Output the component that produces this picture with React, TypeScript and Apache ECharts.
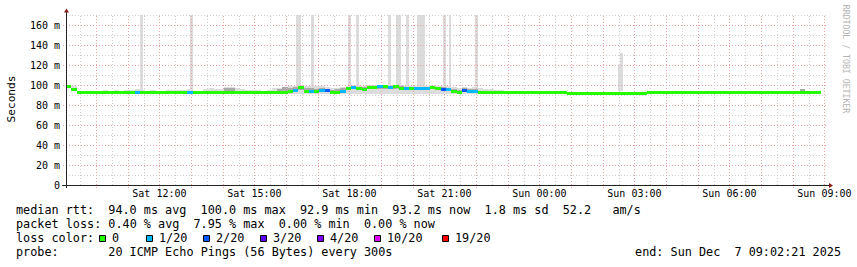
import React, { useEffect, useRef } from "react";
import * as echarts from "echarts";

// ---------- data ----------
const START_MIN = 543; // Sat 09:03 (minutes since Sat 00:00)
const SPAN_MIN = 1440;
const SLOT_MIN = 10;
const Y_MAX = 170;

// median rtt (ms) per 10-minute slot
const medianMs = [
  99, 96.5, 93, 93, 93, 93, 93, 93, 93, 93,
  93, 93, 93, 93, 93, 93, 93, 93, 93, 93,
  93, 93, 93, 93, 93, 93, 93, 93, 93, 93,
  93, 93, 93, 93, 93, 93, 93, 93, 93, 93,
  93, 93, 94, 95.5, 98.5, 94.5, 94.5, 94.5, 95.5, 95,
  93, 93, 94.5, 97, 98.5, 97, 96, 98.5, 98.5, 99,
  98.8, 98.5, 99, 97.5, 97.5, 97, 97, 97, 97, 98.5,
  97, 96, 96, 94, 93, 95.5, 94, 94, 93, 93,
  93, 93, 93, 93, 93, 93, 93, 93, 93, 93,
  93, 93, 93, 93, 93, 92.3, 92.3, 92.3, 92.3, 92.3,
  92.3, 92.3, 92.3, 92.3, 92.3, 92.3, 92.3, 92.3, 92.3, 92.3,
  93, 93, 93, 93, 93, 93, 93, 93, 93, 93,
  93, 93, 93, 93, 93, 93, 93, 93, 93, 93,
  93, 93, 93, 93, 93, 93, 93, 93, 93, 93,
  93, 93, 93,
];

// lost pings (of 20) per slot
const lossCount = [
  0, 0, 0, 0, 0, 0, 0, 0, 0, 0,
  0, 0, 0, 1, 0, 0, 0, 0, 0, 0,
  0, 0, 0, 1, 0, 0, 0, 0, 0, 0,
  0, 0, 0, 0, 0, 0, 0, 0, 0, 0,
  0, 0, 0, 1, 0, 0, 1, 0, 1, 2,
  0, 0, 1, 0, 1, 0, 0, 0, 0, 1,
  0, 1, 0, 0, 1, 0, 1, 1, 1, 0,
  0, 2, 1, 0, 0, 2, 1, 1, 0, 0,
  0, 0, 0, 0, 0, 0, 0, 0, 0, 0,
  0, 0, 0, 0, 0, 0, 0, 0, 0, 0,
  0, 0, 0, 0, 0, 0, 0, 0, 0, 0,
  0, 0, 0, 0, 0, 0, 0, 0, 0, 0,
  0, 0, 0, 0, 0, 0, 0, 0, 0, 0,
  0, 0, 0, 0, 0, 0, 0, 0, 0, 0,
  0, 0, 0,
];

// smoke: fastest / slowest ping per slot (ms)
const smokeLoMs = [
  98, 95, 92, 92, 92, 92, 92, 92, 92, 92,
  92, 92, 92, 92, 92, 92, 92, 92, 92, 92,
  92, 92, 92, 92, 92, 92, 92, 92, 92, 92,
  92, 92, 92, 92, 92, 92, 92, 92, 92, 92,
  92, 92, 91.5, 91.5, 91.5, 91.5, 91.5, 91.5, 91.5, 91.5,
  91.5, 91.5, 91.5, 91.5, 91.5, 91.5, 91.5, 91.5, 91.5, 91.5,
  91.5, 91.5, 91.5, 91.5, 91.5, 91.5, 91.5, 91.5, 91.5, 91.5,
  91.5, 91.5, 91.5, 91.5, 91.5, 91.5, 91.5, 91.5, 91.5, 92,
  92, 92, 92, 92, 92, 92, 92, 92, 92, 92,
  92, 92, 92, 92, 92, 92, 92, 92, 92, 92,
  92, 92, 92, 92, 92, 92, 92, 92, 92, 92,
  92, 92, 92, 92, 92, 92, 92, 92, 92, 92,
  92, 92, 92, 92, 92, 92, 92, 92, 92, 92,
  92, 92, 92, 92, 92, 92, 92, 92, 92, 92,
  92, 92, 92,
];
const smokeHiMs = [
  100, 99.5, 93.5, 93.5, 93.5, 93.5, 93.5, 95, 93.5, 95,
  94.5, 95.5, 95, 96, 95, 94.5, 95, 94, 94, 95,
  95, 95, 95, 96, 94, 94.5, 96, 97, 96.5, 96,
  98.5, 98, 97, 96, 95, 95.5, 95, 94.5, 95, 97,
  97.5, 98, 99, 99.5, 100, 99, 99.5, 99, 99, 98.5,
  97, 97.5, 98, 99, 100, 100, 99, 100, 100, 100,
  100, 100, 100.5, 100, 99.5, 99.5, 99, 99, 99.5, 100.5,
  99.5, 99.5, 99, 98, 97.5, 98.5, 97.5, 98, 97, 96.5,
  96, 95.5, 95, 94.5, 94, 93.5, 93.5, 93.5, 93.5, 93.5,
  93.5, 93.5, 93.5, 93.5, 93.5, 93.5, 93.5, 93.5, 93.5, 93.5,
  93.5, 93.5, 93.5, 93.5, 93.5, 93.5, 93.5, 93.5, 93.5, 93.5,
  93.5, 93.5, 93.5, 93.5, 93.5, 93.5, 93.5, 93.5, 93.5, 93.5,
  93.5, 93.5, 93.5, 93.5, 93.5, 93.5, 93.5, 93.5, 93.5, 93.5,
  93.5, 93.5, 93.5, 93.5, 93.5, 93.5, 93.5, 93.5, 93.5, 96.5,
  93.5, 93.5, 93.5,
];

// denser inner smoke: [slot, lo ms, hi ms]
const darkBands = [
  [30, 94.5, 97.5], [31, 94, 97], [40, 94, 96.5], [41, 94.5, 98.5],
  [42, 94, 97], [43, 94.5, 98], [44, 95, 99], [45, 93.5, 97], [46, 94, 97.5],
  [47, 93.5, 96.5], [48, 94, 97], [49, 93.5, 96.5], [50, 93, 95.5], [51, 93, 96],
  [52, 93.5, 97], [53, 95, 98.5], [54, 96, 99.5], [55, 95.5, 98.5], [56, 94.5, 98],
  [57, 96, 99.5], [58, 96.5, 99.5], [59, 96.5, 99.5], [60, 96.5, 99.5], [61, 96, 99.5],
  [62, 96.5, 99.5], [63, 95.5, 99], [64, 95.5, 98.5], [65, 95, 98.5], [66, 95, 98.5],
  [67, 95, 98], [68, 95, 98.5], [69, 96, 99.5], [70, 95, 98.5], [71, 94.5, 98],
  [72, 94.5, 97.5], [73, 93.5, 96], [74, 93, 95.5], [75, 93.5, 97], [76, 93.5, 96],
  [77, 93.5, 96.5], [139, 94, 96],
];

// slow outliers: [minutes after start, duration min, top ms]
const spikes = [
  [140, 5, 170], [235, 5, 170], [435, 10, 170], [465, 5, 170], [535, 5, 170],
  [550, 5, 170], [610, 5, 170], [625, 10, 170], [645, 5, 170], [665, 15, 170],
  [715, 5, 170], [725, 5, 170], [775, 5, 170], [1045, 5, 120], [1050, 5, 132],
];

const yTickValues = [0, 20, 40, 60, 80, 100, 120, 140, 160];
const xLabelValues = [720, 900, 1080, 1260, 1440, 1620, 1800, 1980];
const xLabelTexts = ["Sat 12:00", "Sat 15:00", "Sat 18:00", "Sat 21:00", "Sun 00:00", "Sun 03:00", "Sun 06:00", "Sun 09:00"];

const lossLevels = [0, 1, 2, 3, 4, 10, 19];
const lossLabels = ["0", "1/20", "2/20", "3/20", "4/20", "10/20", "19/20"];
const lossColors = ["#26ff00", "#00b8ff", "#0059ff", "#5e00ff", "#7e00ff", "#dd00ff", "#ff0000"];

const statLines = [
  "median rtt:  94.0 ms avg  100.0 ms max  92.9 ms min  93.2 ms now  1.8 ms sd  52.2   am/s",
  "packet loss: 0.40 % avg  7.95 % max  0.00 % min  0.00 % now",
  "loss color:",
  "probe:       20 ICMP Echo Pings (56 Bytes) every 300s",
];
const endText = "end: Sun Dec  7 09:02:21 2025";

// ---------- styling ----------
const CHAR_W = 7.1;
const LEG_FONT = 11.8;
const MAJOR = "#eaa3a3";
const MINOR = "#cfcfcf";
const SMOKE_LIGHT = "#dcdcdc";
const SMOKE_DARK = "#a9a9a9";
const ARROW = "#8b1a1a";
const AXIS = "#222";

const END_MIN = START_MIN + SPAN_MIN;

function lossColor(n: number) {
  let c = lossColors[0];
  lossLevels.forEach((lv, k) => {
    if (n >= lv) c = lossColors[k];
  });
  return c;
}

function rectItem(api: any, fill: string) {
  const p0 = api.coord([api.value(0), api.value(3)]);
  const p1 = api.coord([api.value(1), api.value(2)]);
  const x0 = Math.round(p0[0]);
  const x1 = Math.round(p1[0]);
  const y0 = Math.round(p0[1]);
  const y1 = Math.round(p1[1]);
  return {
    type: "rect",
    shape: { x: x0, y: y0, width: Math.max(1, x1 - x0), height: Math.max(0, y1 - y0) },
    style: { fill },
  };
}

function txt(text: string, x: number, y: number, align: string, size = LEG_FONT) {
  return {
    type: "text",
    x,
    y,
    style: {
      text,
      fontFamily: "DejaVu Sans Mono",
      fontSize: size,
      fill: "#000",
      textAlign: align,
      textVerticalAlign: "middle",
      align,
      verticalAlign: "middle",
    },
  };
}

function textRuns(line: string, x0: number, y: number) {
  const out: any[] = [];
  const re = /\S+(?: \S+)*/g;
  let m: RegExpExecArray | null;
  while ((m = re.exec(line))) {
    out.push(txt(m[0], x0 + m.index * CHAR_W, y, "left"));
  }
  return out;
}

export default function App() {
  const ref = useRef<HTMLDivElement>(null);

  useEffect(() => {
    if (!ref.current) return;
    const chart = echarts.init(ref.current, undefined, { renderer: "svg" });

    const slotT = (i: number) => START_MIN + i * SLOT_MIN;

    const smokeData = smokeHiMs.map((hi, i) => [slotT(i), slotT(i + 1), smokeLoMs[i], hi]);
    const darkData = darkBands.map(([s, lo, hi]) => [slotT(s), slotT(s + 1), lo, hi]);
    const spikeData = spikes.map(([off, dur, top]) => [START_MIN + off, START_MIN + off + dur, 94, top]);
    const medianData = medianMs.map((m, i) => [slotT(i), slotT(i + 1), m, lossCount[i]]);

    const legendY = [210, 224, 238, 252];
    const squareX = [99, 146, 203, 260, 317, 374, 442];

    const graphics: any[] = [];
    statLines.forEach((ln, k) => graphics.push(...textRuns(ln, 16, legendY[k])));
    lossLabels.forEach((lab, k) => {
      graphics.push({
        type: "rect",
        shape: { x: squareX[k] + 0.5, y: 235.5, width: 6, height: 6 },
        style: { fill: lossColors[k], stroke: "#000", lineWidth: 1 },
      });
      graphics.push(txt(lab, squareX[k] + 13, legendY[2], "left"));
    });
    graphics.push(txt(endText, 841, legendY[3], "right"));
    graphics.push({ ...txt("Seconds", 11, 99, "center", 11.2), rotation: Math.PI / 2 });
    const wm: any = txt("RRDTOOL / TOBI OETIKER", 846, 59, "center", 8.2);
    wm.rotation = -Math.PI / 2;
    wm.style.fill = "#b4b4b4";
    graphics.push(wm);

    const option: any = {
      animation: false,
      backgroundColor: "#ffffff",
      grid: { left: 66, top: 15, width: 760, height: 170, containLabel: false },
      xAxis: {
        type: "value",
        min: START_MIN,
        max: END_MIN,
        axisLine: { show: false },
        axisTick: { show: false },
        splitLine: { show: false },
        axisLabel: {
          customValues: xLabelValues,
          formatter: (v: number) => {
            const k = xLabelValues.indexOf(v);
            return k >= 0 ? xLabelTexts[k] : "";
          },
          fontFamily: "DejaVu Sans Mono",
          fontSize: 10,
          color: "#000",
          margin: 8,
          verticalAlign: "middle",
          hideOverlap: false,
        },
      },
      yAxis: {
        type: "value",
        min: 0,
        max: Y_MAX,
        interval: 20,
        axisLine: { show: false },
        axisTick: { show: false },
        splitLine: { show: false },
        axisLabel: {
          formatter: (v: number) => (yTickValues.indexOf(v) < 0 ? "" : v === 0 ? "0" : `${v} m`),
          fontFamily: "DejaVu Sans Mono",
          fontSize: 10,
          color: "#000",
          margin: 6,
        },
      },
      graphic: { elements: graphics },
      series: [
        {
          type: "custom",
          name: "outliers",
          silent: true,
          data: spikeData,
          encode: { x: [0, 1], y: [2, 3] },
          renderItem: (_p: any, api: any) => rectItem(api, SMOKE_LIGHT),
          z: 1,
        },
        {
          type: "custom",
          name: "smoke",
          silent: true,
          data: smokeData,
          encode: { x: [0, 1], y: [2, 3] },
          renderItem: (_p: any, api: any) => rectItem(api, SMOKE_LIGHT),
          z: 2,
        },
        {
          type: "custom",
          name: "smoke core",
          silent: true,
          data: darkData,
          encode: { x: [0, 1], y: [2, 3] },
          renderItem: (_p: any, api: any) => rectItem(api, SMOKE_DARK),
          z: 3,
        },
        {
          type: "custom",
          name: "grid",
          silent: true,
          data: [[START_MIN, 0]],
          z: 4,
          renderItem: (_p: any, api: any) => {
            const els: any[] = [];
            const left = Math.round(api.coord([START_MIN, 0])[0]);
            const right = Math.round(api.coord([END_MIN, 0])[0]);
            const bottom = Math.round(api.coord([START_MIN, 0])[1]);
            const top = Math.round(api.coord([START_MIN, Y_MAX])[1]);
            for (let v = 10; v <= Y_MAX; v += 10) {
              const y = Math.round(api.coord([START_MIN, v])[1]) + 0.5;
              const major = v % 20 === 0;
              els.push({
                type: "line",
                shape: { x1: major ? left - 3 : left, y1: y, x2: right + 2, y2: y },
                style: { stroke: major ? MAJOR : MINOR, lineWidth: 1, lineDash: [1, 2] },
              });
            }
            for (let t = 570; t <= END_MIN; t += 30) {
              if (t <= START_MIN) continue;
              const x = Math.round(api.coord([t, 0])[0]) + 0.5;
              const major = t % 60 === 0;
              els.push({
                type: "line",
                shape: { x1: x, y1: major ? bottom + 3 : bottom, x2: x, y2: top },
                style: { stroke: major ? MAJOR : MINOR, lineWidth: 1, lineDash: [1, 2] },
              });
            }
            return { type: "group", children: els };
          },
        },
        {
          type: "custom",
          name: "median rtt",
          silent: true,
          data: medianData,
          encode: { x: [0, 1], y: 2 },
          z: 5,
          renderItem: (_p: any, api: any) => {
            const p0 = api.coord([api.value(0), api.value(2)]);
            const p1 = api.coord([api.value(1), api.value(2)]);
            const x0 = Math.round(p0[0]);
            const x1 = Math.round(p1[0]);
            const y = Math.round(p0[1]);
            return {
              type: "rect",
              shape: { x: x0, y: y - 1, width: x1 - x0, height: 3 },
              style: { fill: lossColor(api.value(3)) },
            };
          },
        },
        {
          type: "custom",
          name: "frame",
          silent: true,
          data: [[START_MIN, 0]],
          z: 6,
          renderItem: (_p: any, api: any) => {
            const left = Math.round(api.coord([START_MIN, 0])[0]);
            const right = Math.round(api.coord([END_MIN, 0])[0]);
            const bottom = Math.round(api.coord([START_MIN, 0])[1]);
            const top = Math.round(api.coord([START_MIN, Y_MAX])[1]);
            const ax = left + 0.5;
            const ay = bottom + 0.5;
            return {
              type: "group",
              children: [
                { type: "line", shape: { x1: left - 4, y1: ay, x2: right + 3, y2: ay }, style: { stroke: AXIS, lineWidth: 1 } },
                { type: "line", shape: { x1: ax, y1: bottom + 3, x2: ax, y2: top - 3 }, style: { stroke: AXIS, lineWidth: 1 } },
                { type: "polygon", shape: { points: [[ax - 2.5, top - 2.5], [ax + 2.5, top - 2.5], [ax, top - 6.5]] }, style: { fill: ARROW } },
                { type: "polygon", shape: { points: [[right + 3, ay - 2.5], [right + 3, ay + 2.5], [right + 7, ay]] }, style: { fill: ARROW } },
              ],
            };
          },
        },
      ],
    };

    chart.setOption(option);
    return () => chart.dispose();
  }, []);

  return (
    <div
      ref={ref}
      style={{ position: "absolute", left: 0, top: 0, width: 857, height: 267, background: "#fff" }}
    />
  );
}
